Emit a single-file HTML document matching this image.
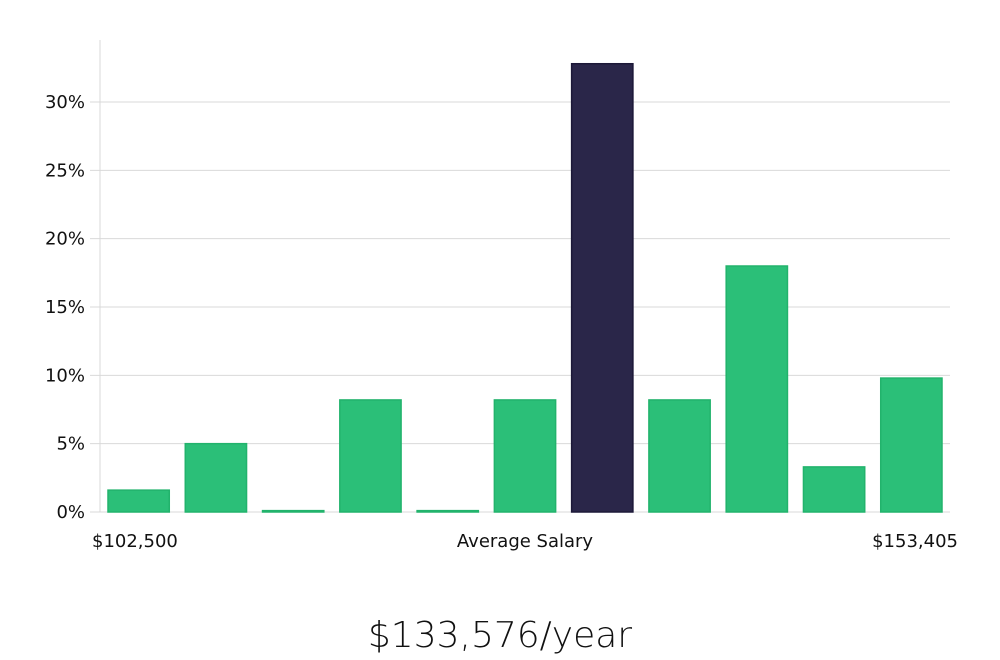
<!DOCTYPE html>
<html><head><meta charset="utf-8"><style>
html,body{margin:0;padding:0;background:#fff;width:1000px;height:660px;overflow:hidden}
svg{display:block}
text{font-family:"DejaVu Sans","Liberation Sans",sans-serif}
</style></head><body>
<svg id="chart" width="1000" height="660" xmlns="http://www.w3.org/2000/svg">
<g id="grid"></g>
<g id="bars"></g>
<g id="yaxis"></g>
<text x="92" y="547" font-size="18" fill="#111">$102,500</text>
<text x="525" y="547" font-size="18" fill="#111" text-anchor="middle">Average Salary</text>
<text x="958" y="547" font-size="18" fill="#111" text-anchor="end">$153,405</text>
<text x="500" y="647" font-size="36" fill="#111" text-anchor="middle" font-family="Liberation Sans, sans-serif" style="font-weight:300">$133,576/year</text>
</svg>
<script>
const values = [1.6, 5.0, 0.1, 8.2, 0.1, 8.2, 32.8, 8.2, 18.0, 3.3, 9.8];
const highlight = [false, false, false, false, false, false, true, false, false, false, false];
const ticks = [0, 5, 10, 15, 20, 25, 30];
const tickLabels = ["0%", "5%", "10%", "15%", "20%", "25%", "30%"];
const NS = "http://www.w3.org/2000/svg";
const x0 = 100, x1 = 950, yBase = 512, pxPer = (512 - 102) / 30;
const y = v => yBase - v * pxPer;
const slot = (x1 - x0) / values.length;
const grid = document.getElementById('grid'), bars = document.getElementById('bars'), ya = document.getElementById('yaxis');
ticks.forEach((t, i) => {
  const l = document.createElementNS(NS, 'line');
  
  
  l.setAttribute('x1', 90); l.setAttribute('x2', x1);
  l.setAttribute('y1', y(t)); l.setAttribute('y2', y(t));
  l.setAttribute('stroke', '#d9d9d9'); l.setAttribute('stroke-width', 1);
  grid.appendChild(l);
  const tx = document.createElementNS(NS, 'text');
  
  
  tx.setAttribute('x', 85); tx.setAttribute('y', y(t) + 6);
  tx.setAttribute('text-anchor', 'end'); tx.setAttribute('font-size', '18'); tx.setAttribute('fill', '#111');
  tx.textContent = tickLabels[i];
  ya.appendChild(tx);
});
const ax = document.createElementNS(NS, 'line');


ax.setAttribute('x1', x0); ax.setAttribute('x2', x0); ax.setAttribute('y1', 40); ax.setAttribute('y2', yBase);
ax.setAttribute('stroke', '#d9d9d9');
ya.appendChild(ax);
values.forEach((v, i) => {
  const r = document.createElementNS(NS, 'rect');
  
  
  const bx = x0 + i * slot + 8, bw = slot - 16;
  const h = Math.max(v * pxPer, 1);
  r.setAttribute('x', bx); r.setAttribute('y', yBase - h);
  r.setAttribute('width', bw); r.setAttribute('height', h);
  r.setAttribute('fill', highlight[i] ? '#2a2649' : '#2bbf78');
  r.setAttribute('stroke', highlight[i] ? '#1c1838' : '#22b36c');
  r.setAttribute('stroke-width', 1.5);
  bars.appendChild(r);
});
</script>
</body></html>
